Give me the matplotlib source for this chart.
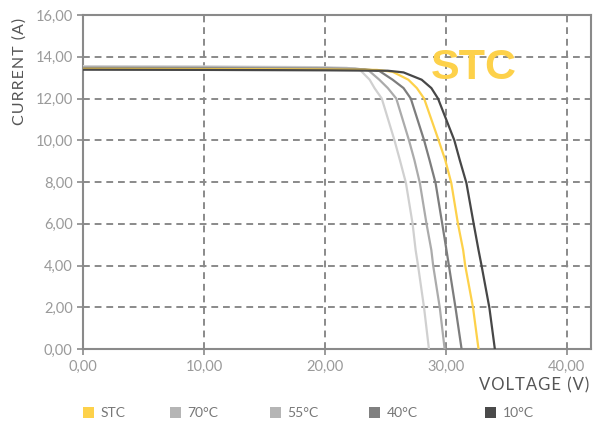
import matplotlib
matplotlib.use("Agg")
import matplotlib.pyplot as plt
from matplotlib.patches import Patch

# ---- data ----
series_names = ["STC", "70°C", "55°C", "40°C", "10°C"]

v_70 = [0, 10, 20, 21.8, 22.9, 23.7, 24.1, 24.7, 25.75, 26.2, 26.7, 27.25, 27.5, 27.7, 28.2, 28.6]
i_70 = [13.55, 13.54, 13.5, 13.47, 13.37, 12.9, 12.5, 12.0, 10.0, 9.05, 7.95, 6.0, 4.74, 4.0, 1.97, 0]

v_55 = [0, 10, 20, 22.5, 23.6, 24.5, 25.2, 25.9, 26.95, 27.4, 27.85, 28.4, 28.8, 28.95, 29.5, 29.9]
i_55 = [13.5, 13.49, 13.46, 13.44, 13.35, 12.9, 12.5, 12.0, 10.0, 9.05, 7.95, 6.0, 4.74, 4.0, 1.97, 0]

v_40 = [0, 10, 20, 23.3, 24.5, 25.6, 26.5, 27.1, 28.2, 28.65, 29.15, 29.7, 30.05, 30.25, 30.8, 31.3]
i_40 = [13.45, 13.44, 13.42, 13.4, 13.32, 12.9, 12.5, 12.0, 10.0, 9.05, 7.95, 6.0, 4.74, 4.0, 1.97, 0]

v_stc = [0, 10, 20, 24.3, 25.6, 26.9, 27.6, 28.2, 29.4, 29.95, 30.45, 31.0, 31.43, 31.6, 32.25, 32.7]
i_stc = [13.42, 13.41, 13.39, 13.37, 13.28, 12.9, 12.5, 12.0, 10.0, 9.05, 7.95, 6.0, 4.74, 4.0, 1.97, 0]

v_10 = [0, 10, 20, 25.2, 26.5, 28.0, 28.8, 29.35, 30.7, 31.15, 31.7, 32.3, 32.7, 32.95, 33.6, 34.05]
i_10 = [13.38, 13.37, 13.35, 13.33, 13.25, 12.9, 12.5, 12.0, 10.0, 9.05, 7.95, 6.0, 4.74, 4.0, 1.97, 0]

x_ticks = [0, 10, 20, 30, 40]
x_tick_labels = ["0,00", "10,00", "20,00", "30,00", "40,00"]
y_ticks = [0, 2, 4, 6, 8, 10, 12, 14, 16]
y_tick_labels = ["0,00", "2,00", "4,00", "6,00", "8,00", "10,00", "12,00", "14,00", "16,00"]

# ---- style ----
plt.rcParams['font.family'] = ['Lato', 'DejaVu Sans']
line_colors = {"STC": "#FDD14A", "70°C": "#D0D0D0", "55°C": "#ABABAB",
               "40°C": "#7D7D7D", "10°C": "#474747"}
legend_colors = {"STC": "#FDD14A", "70°C": "#B5B5B5", "55°C": "#B5B5B5",
                 "40°C": "#808080", "10°C": "#4A4A4A"}
grid_c = "#8A8A8A"
HS = "\u200a"  # hair space for letter spacing

def spaced(s):
    return HS.join(s)

fig = plt.figure(figsize=(6.08, 4.24), dpi=100)
ax = fig.add_axes([83/608, 1-349/424, (591-83)/608, (349-15)/424])

data = {"70°C": (v_70, i_70), "55°C": (v_55, i_55), "40°C": (v_40, i_40),
        "STC": (v_stc, i_stc), "10°C": (v_10, i_10)}
for z, name in enumerate(["70°C", "55°C", "40°C", "STC", "10°C"]):
    v, i = data[name]
    ax.plot(v, i, color=line_colors[name], lw=1.6, zorder=3 + z,
            solid_joinstyle='round')

ax.set_xlim(0, 42)
ax.set_ylim(0, 16)
ax.set_xticks(x_ticks)
ax.set_xticklabels(x_tick_labels)
ax.set_yticks(y_ticks)
ax.set_yticklabels(y_tick_labels)
ax.tick_params(colors=grid_c, labelcolor="#9A9A9A", labelsize=10.5, length=4, width=1.2)
ax.grid(True, color=grid_c, lw=1.4, ls=(0, (3.5, 2.5)))
ax.set_axisbelow(True)
for s in ax.spines.values():
    s.set_color(grid_c)
    s.set_linewidth(1.5)

ax.text(-0.124, 0.83, spaced("CURRENT (A)"), transform=ax.transAxes, rotation=90,
        ha="center", va="center", fontsize=11.5, color="#555555")
ax.text(0.996, -0.108, spaced("VOLTAGE (V)"), transform=ax.transAxes,
        ha="right", va="center", fontsize=12, color="#555555")

ax.text(32.3, 13.46, "STC", ha="center", va="center", fontsize=31,
        fontweight="bold", color="#FDD14A", family="Liberation Sans", zorder=10)

leg_x = [83, 170, 270, 369, 485]
for n, lx in zip(series_names, leg_x):
    h = Patch(facecolor=legend_colors[n], edgecolor="none", label=n)
    fig.legend(handles=[h], loc="center left",
               bbox_to_anchor=(lx/608, 1-413/424),
               frameon=False, handlelength=0.8, handleheight=0.8, handletextpad=0.45,
               fontsize=10, labelcolor="#777777", borderaxespad=0, borderpad=0)

fig.savefig("out.png", dpi=100)
